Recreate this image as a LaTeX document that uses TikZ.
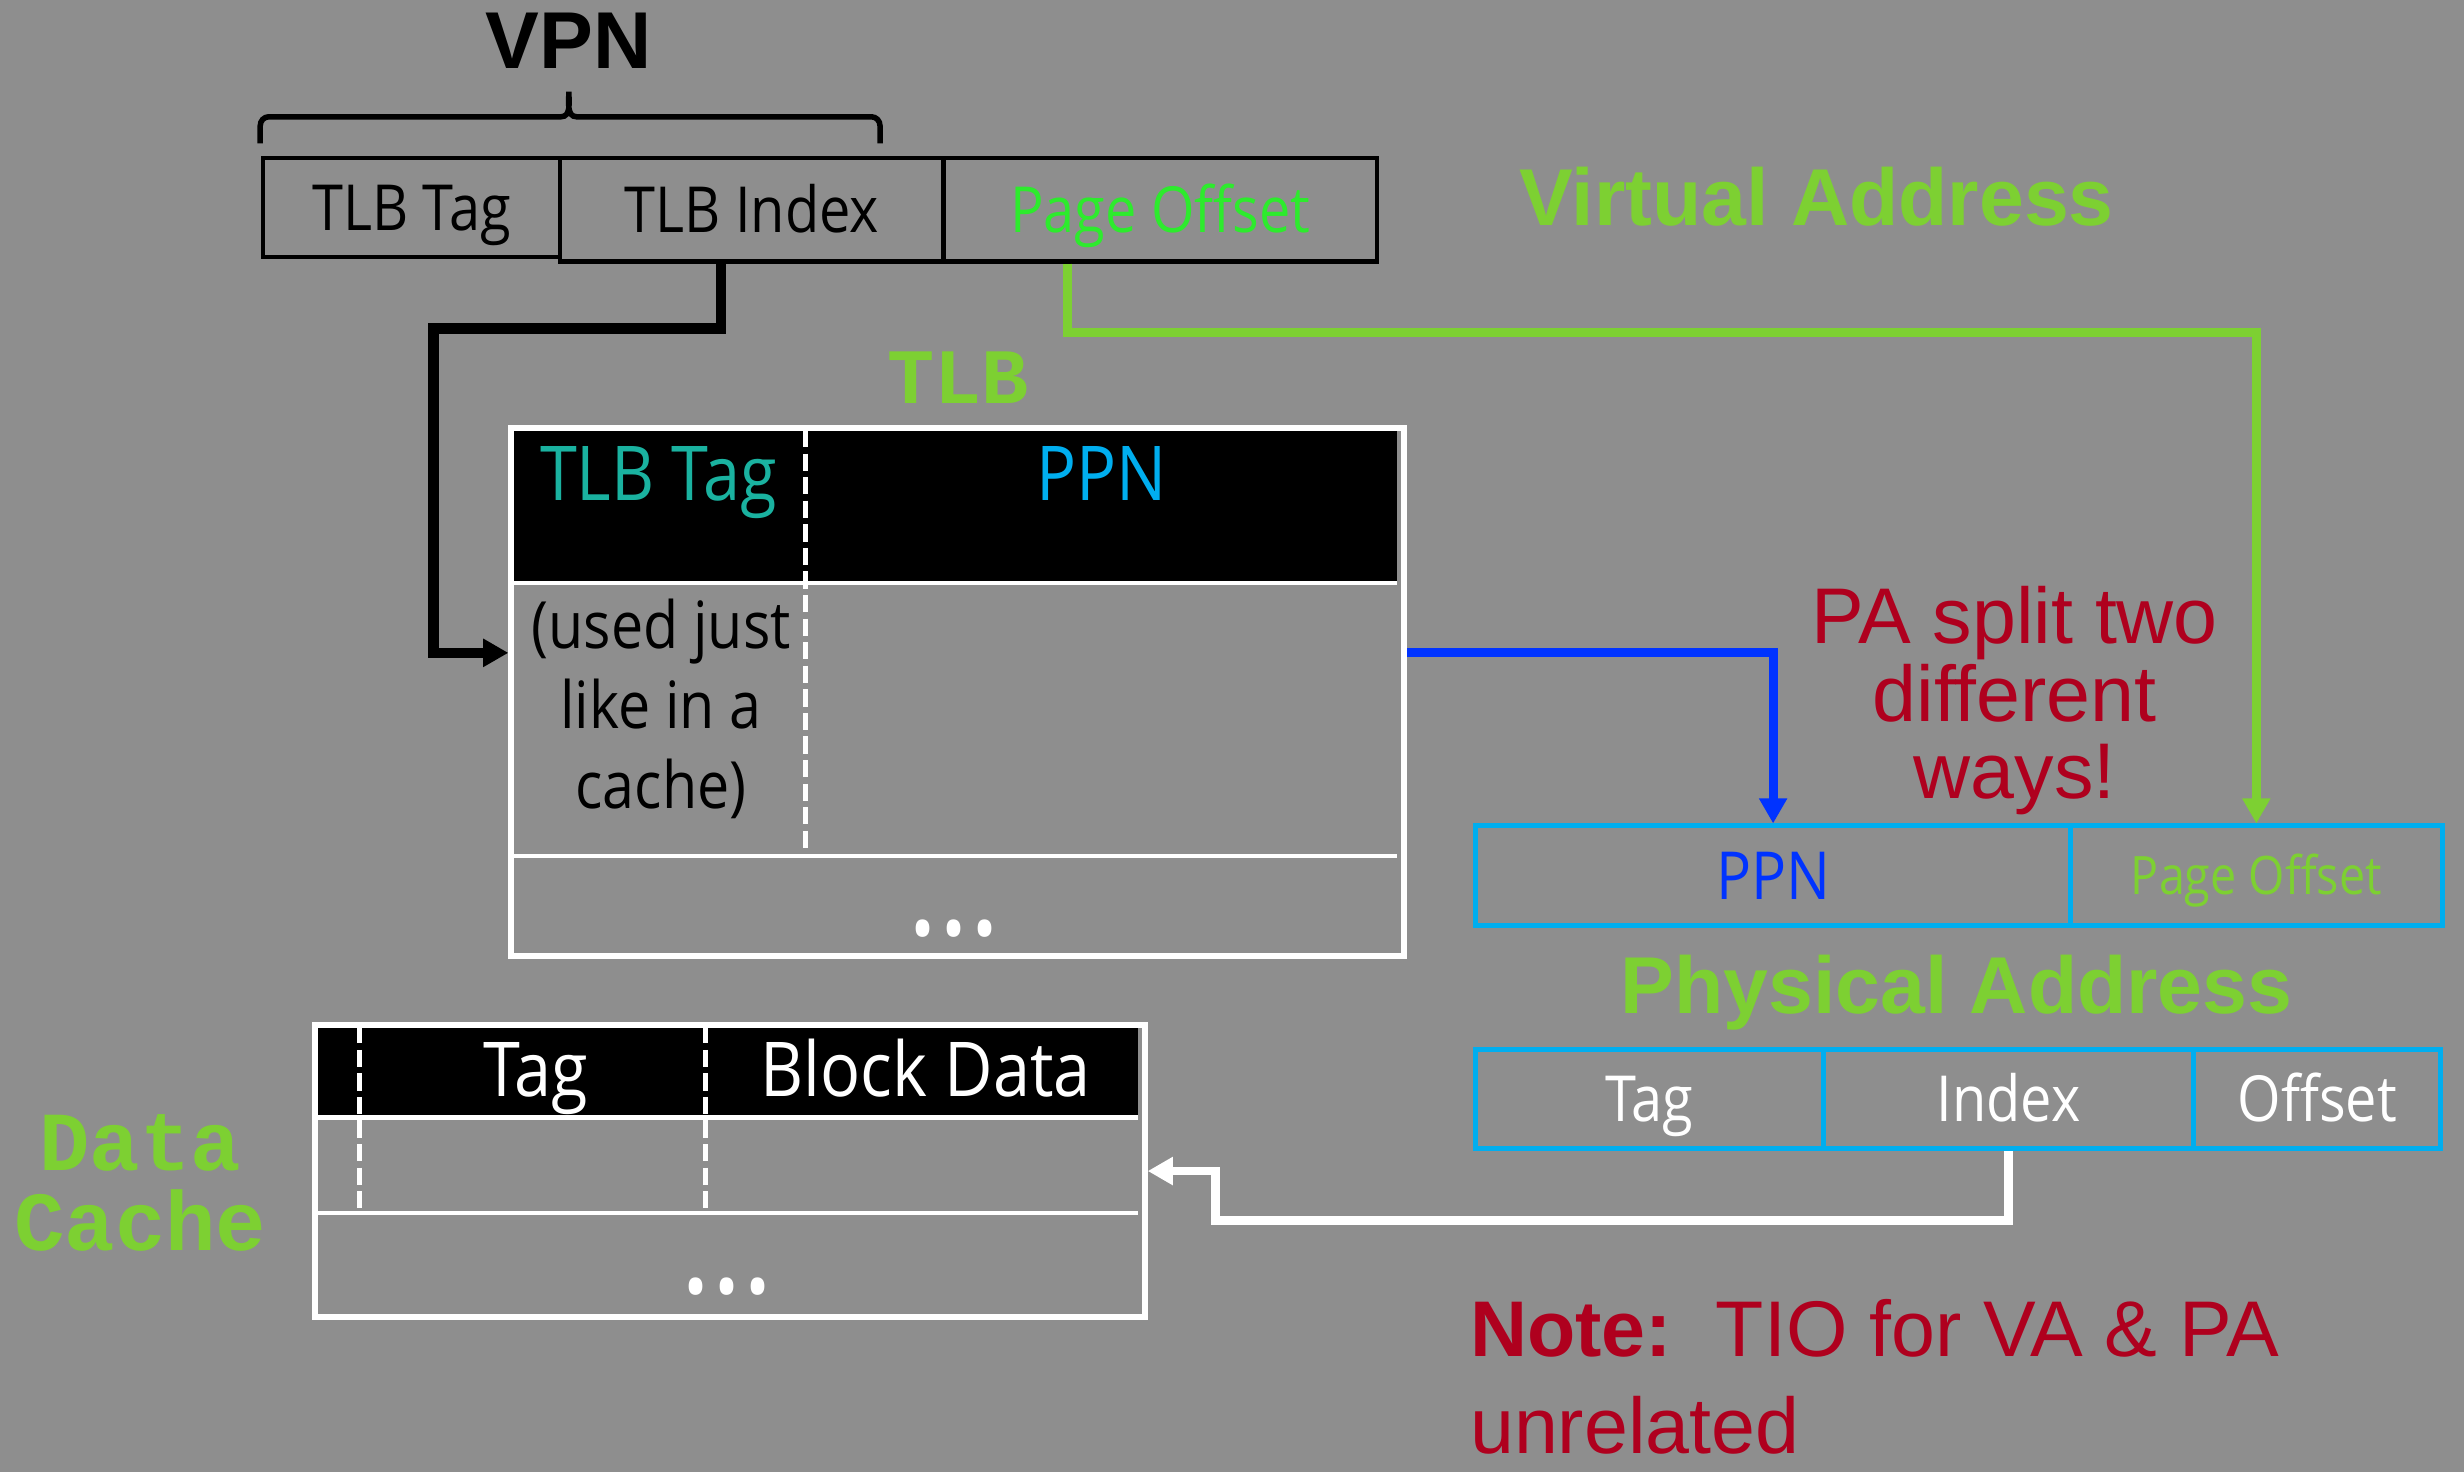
\documentclass[tikz,border=0pt]{standalone}
\usepackage{fontspec}
\setmainfont{Liberation Sans}
\newfontfamily\gill[FakeStretch=0.88]{Open Sans}
\newfontfamily\cour{Liberation Mono}
\usetikzlibrary{arrows.meta}

\definecolor{slidegray}{RGB}{142,142,142}
\definecolor{lblgreen}{RGB}{125,208,50}
\definecolor{vagreen}{RGB}{45,235,45}
\definecolor{tagteal}{RGB}{26,178,160}
\definecolor{ppncyan}{RGB}{0,174,239}
\definecolor{ppnblue}{RGB}{0,51,255}
\definecolor{warnred}{RGB}{175,0,30}

\tikzset{
  fld/.style={draw, inner sep=0pt, anchor=north west,
    font=\gill\fontsize{11.5}{14}\selectfont, text height=0.29cm, text depth=0pt},
  vafld/.style={fld, draw=black, line width=0.8pt, minimum height=0.66cm},
  pafld/.style={fld, draw=ppncyan, line width=0.9pt, minimum height=0.635cm},
  tblframe/.style={draw=white, line width=1.1pt, inner sep=0pt, anchor=north west},
  rowline/.style={white, line width=0.8pt},
  colline/.style={white, line width=0.85pt, dash pattern=on 0.11cm off 0.04cm},
  link/.style={line width=1.6pt, -{Triangle[length=0.16cm,width=0.17cm]}},
  title/.style={anchor=base, font=\bfseries\fontsize{14.6}{17}\selectfont},
  codelbl/.style={anchor=base, align=center, text=lblgreen, font=\cour\bfseries\fontsize{15.2}{14.5}\selectfont},
  hdr/.style={anchor=base, font=\gill\fontsize{13.7}{16}\selectfont},
  dots/.style={anchor=base, text=white, font=\gill\fontsize{24}{24}\selectfont},
}

\begin{document}
\begin{tikzpicture}
  \fill[slidegray] (0,0) rectangle (15.68,-9.37);
  \useasboundingbox (0,0) rectangle (15.68,-9.37);

  % virtual address
  \node[title] (vpn) at (3.62,-0.435) {VPN};
  \draw[line width=1pt] (1.656,-0.912) -- (1.656,-0.80) to[out=90,in=180] (1.71,-0.743)
    -- (3.57,-0.743) to[out=0,in=-90] (3.62,-0.583) to[out=-90,in=180] (3.67,-0.743)
    -- (5.545,-0.743) to[out=0,in=90] (5.60,-0.80) -- (5.60,-0.912);
  \node[vafld, minimum width=1.89cm, minimum height=0.63cm] (vtag) at (1.66,-0.99) {TLB Tag};
  \node[vafld, minimum width=2.44cm] (vidx) at (3.55,-0.99) {TLB Index};
  \node[vafld, minimum width=2.76cm, text=vagreen] (voff) at (5.99,-0.99) {Page Offset};
  \node[title, text=lblgreen] (vaddr) at (11.56,-1.438) {Virtual Address};

  % TLB
  \node[codelbl, font=\cour\bfseries\fontsize{14.2}{14}\selectfont] (tlbname) at (6.098,-2.566) {TLB};
  \fill[black] (3.254,-2.736) rectangle (8.89,-3.698);
  \draw[rowline] (3.254,-3.71) -- (8.89,-3.71);
  \draw[rowline] (3.254,-5.448) -- (8.89,-5.448);
  \draw[colline] (5.126,-2.736) -- (5.126,-5.448);
  \node[tblframe, minimum width=5.68cm, minimum height=3.36cm] (tlb) at (3.235,-2.705) {};
  \node[hdr, text=tagteal] (tlbtag) at (4.19,-3.183) {TLB Tag};
  \node[hdr, text=ppncyan] (tlbppn) at (7.01,-3.183) {PPN};
  \node[anchor=base, align=center, font=\gill\fontsize{11.8}{14.5}\selectfont] (tlbnote) at (4.207,-5.146) {(used just\\like in a\\cache)};
  \node[dots] (tlbdots) at (6.07,-5.95) {...};

  % physical address
  \node[anchor=base, align=center, text=warnred, font=\fontsize{14.3}{14}\selectfont] (split) at (12.82,-5.08) {PA split two\\different\\ways!};
  \node[pafld, minimum width=3.785cm, text=ppnblue, font=\gill\fontsize{12}{14}\selectfont, text height=0.30cm] (ppnfld) at (9.375,-5.24) {PPN};
  \node[pafld, minimum width=2.365cm, text=lblgreen, font=\gill\fontsize{9.6}{12}\selectfont, text height=0.24cm] (pofld) at (13.16,-5.24) {Page Offset};
  \node[title, text=lblgreen] (paddr) at (12.45,-6.449) {Physical Address};
  \node[pafld, minimum width=2.21cm, text=white] (tfld) at (9.376,-6.66) {Tag};
  \node[pafld, minimum width=2.359cm, text=white] (ifld) at (11.586,-6.66) {Index};
  \node[pafld, minimum width=1.57cm, text=white] (ofld) at (13.945,-6.66) {Offset};

  % data cache
  \node[codelbl] (dcname) at (0.893,-7.955) {Data\\Cache};
  \fill[black] (2.007,-6.53) rectangle (7.243,-7.096);
  \draw[rowline] (2.007,-7.11) -- (7.243,-7.11);
  \draw[rowline] (2.007,-7.717) -- (7.243,-7.717);
  \draw[colline] (2.289,-6.53) -- (2.289,-7.717);
  \draw[colline] (4.49,-6.53) -- (4.49,-7.717);
  \node[tblframe, minimum width=5.28cm, minimum height=1.855cm] (dc) at (1.985,-6.505) {};
  \node[hdr, text=white] (dctag) at (3.41,-6.98) {Tag};
  \node[hdr, text=white] (dcdata) at (5.89,-6.98) {Block Data};
  \node[dots] (dcdots) at (4.627,-8.23) {...};

  \node[anchor=base west, inner sep=0pt, align=left, text=warnred, font=\fontsize{14.3}{17.5}\selectfont] (note) at (9.348,-9.249) {\textbf{Note:}\ \ TIO for VA \& PA\\unrelated};

  % connectors
  \draw[link, line width=1.9pt] ([xshift=-0.195cm]vidx.south) |- (2.76,-2.09) |- ([yshift=0.25cm]tlb.west);
  \draw[link, lblgreen] ([xshift=-0.59cm]voff.south) -- ++(0,-0.44) -| (pofld.north);
  \draw[link, ppnblue] ([yshift=0.25cm]tlb.east) -| (ppnfld.north);
  \draw[link, white] (ifld.south) |- (7.736,-7.764) |- (dc.east);
\end{tikzpicture}
\end{document}
